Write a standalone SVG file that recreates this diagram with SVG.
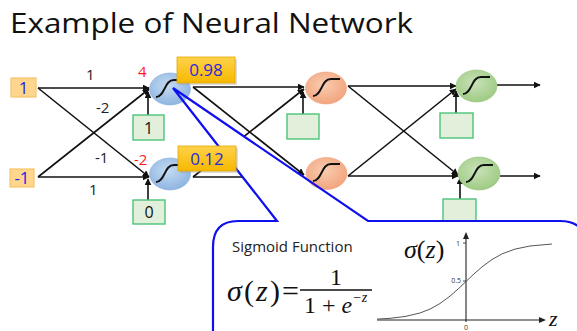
<svg xmlns="http://www.w3.org/2000/svg" width="577" height="331" viewBox="0 0 577 331">
  <style>
    .sans { font-family: "Open Sans", "Liberation Sans", sans-serif; }
    .serif { font-family: "Liberation Serif", "Times New Roman", serif; }
    .wire { stroke: #111; stroke-width: 1.6; fill: none; marker-end: url(#arrow); }
    .wt { font-size: 15px; fill: #222; }
    .net { font-size: 15px; fill: #ff1a1a; }
    .inbox { fill: #ffd68c; stroke: #f7c46a; stroke-width: 1.2; }
    .intext { font-size: 17px; fill: #1e1ee6; }
    .bias { fill: #e2efda; stroke: #4cc47a; stroke-width: 1.4; }
    .btext { font-size: 16px; fill: #111; }
    .sig { fill: none; stroke: #111; stroke-width: 2; }
    .outbox { fill: url(#gold); stroke: #e0a800; stroke-width: 0.8; }
    .outtext { font-size: 17px; fill: #2a2ad6; }
    .call { stroke: #1010ee; stroke-width: 2.2; fill: none; stroke-linejoin: miter; }
  </style>
  <defs>
    <marker id="arrow" viewBox="0 0 10 10" refX="9" refY="5" markerWidth="7" markerHeight="7" markerUnits="userSpaceOnUse" orient="auto">
      <path d="M0,0 L10,5 L0,10 z" fill="#111"/>
    </marker>
    <radialGradient id="blue" cx="45%" cy="40%" r="60%">
      <stop offset="0" stop-color="#c4dbf1"/>
      <stop offset="1" stop-color="#8fb5e2"/>
    </radialGradient>
    <radialGradient id="orange" cx="45%" cy="40%" r="60%">
      <stop offset="0" stop-color="#f9ccb0"/>
      <stop offset="1" stop-color="#f2a57f"/>
    </radialGradient>
    <radialGradient id="green" cx="45%" cy="40%" r="60%">
      <stop offset="0" stop-color="#c9e2b8"/>
      <stop offset="1" stop-color="#9fcb84"/>
    </radialGradient>
    <linearGradient id="gold" x1="0" y1="0" x2="0" y2="1">
      <stop offset="0" stop-color="#ffd24a"/>
      <stop offset="1" stop-color="#f6b800"/>
    </linearGradient>
    <path id="s" d="M-14,8 C-5,8 -6,-9 4,-9 L13,-9"/>
  </defs>

  <!-- title -->
  <text class="sans" x="10" y="33" font-size="28" fill="#111" textLength="403" lengthAdjust="spacingAndGlyphs">Example of Neural Network</text>

  <!-- connectors -->
  <g id="connectors">
    <line class="wire" x1="38" y1="88" x2="149" y2="88"/>
    <line class="wire" x1="38" y1="88" x2="149" y2="177"/>
    <line class="wire" x1="38" y1="177" x2="149" y2="177"/>
    <line class="wire" x1="38" y1="177" x2="149" y2="89"/>
    <line class="wire" x1="148" y1="115" x2="148" y2="92"/>
    <line class="wire" x1="148" y1="200" x2="148" y2="179"/>

    <line class="wire" x1="193" y1="87" x2="304" y2="87"/>
    <line class="wire" x1="193" y1="87" x2="304" y2="175"/>
    <line class="wire" x1="193" y1="177" x2="304" y2="177"/>
    <line class="wire" x1="193" y1="177" x2="304" y2="89"/>
    <line class="wire" x1="303" y1="114" x2="303" y2="92"/>

    <line class="wire" x1="348" y1="86" x2="456" y2="86"/>
    <line class="wire" x1="348" y1="86" x2="458" y2="175"/>
    <line class="wire" x1="348" y1="176" x2="458" y2="176"/>
    <line class="wire" x1="348" y1="176" x2="456" y2="89"/>
    <line class="wire" x1="456" y1="113" x2="456" y2="91"/>
    <line class="wire" x1="460" y1="199" x2="460" y2="178"/>

    <line class="wire" x1="497" y1="85" x2="540" y2="85"/>
    <line class="wire" x1="500" y1="176" x2="540" y2="176"/>
  </g>

  <!-- weights -->
  <text class="sans wt" x="86" y="80">1</text>
  <text class="sans wt" x="96" y="113">-2</text>
  <text class="sans wt" x="95" y="163">-1</text>
  <text class="sans wt" x="89" y="195">1</text>
  <text class="sans net" x="138" y="77">4</text>
  <text class="sans net" x="134" y="165">-2</text>

  <!-- inputs -->
  <g id="in1"><rect class="inbox" x="11" y="78" width="25" height="19"/><text class="sans intext" x="23.5" y="94" text-anchor="middle">1</text></g>
  <g id="in2"><rect class="inbox" x="10" y="169" width="24" height="18"/><text class="sans intext" x="22" y="184" text-anchor="middle">-1</text></g>

  <!-- bias boxes -->
  <g id="b1"><rect class="bias" x="133" y="115" width="31" height="25"/><text class="sans btext" x="148.5" y="133.5" text-anchor="middle">1</text></g>
  <g id="b2"><rect class="bias" x="133" y="200" width="32" height="24"/><text class="sans btext" x="149" y="218" text-anchor="middle">0</text></g>
  <g id="b3"><rect class="bias" x="287" y="114" width="32" height="25"/></g>
  <g id="b5"><rect class="bias" x="440" y="113" width="33" height="25"/></g>
  <g id="b6"><rect class="bias" x="443" y="199" width="33" height="30"/></g>

  <!-- callout background -->
  <path d="M238,221 L277,221 L173,88 L368,221 L560,221 Q586,221 586,247 L586,360 L213,360 L213,247 Q213,221 238,221 Z" fill="#fff"/>

  <!-- neurons -->
  <g id="n1"><ellipse cx="170" cy="89" rx="20.5" ry="16" fill="url(#blue)" stroke="#8aaedb" stroke-width="0.6"/><use href="#s" class="sig" x="170" y="89"/></g>
  <g id="n2"><ellipse cx="170" cy="174" rx="20.5" ry="16" fill="url(#blue)" stroke="#8aaedb" stroke-width="0.6"/><use href="#s" class="sig" x="170" y="174"/></g>
  <g id="n3"><ellipse cx="326" cy="88" rx="20.5" ry="16" fill="url(#orange)" stroke="#eea07a" stroke-width="0.6"/><use href="#s" class="sig" x="327" y="88"/></g>
  <g id="n4"><ellipse cx="326.5" cy="173.5" rx="20.5" ry="16" fill="url(#orange)" stroke="#eea07a" stroke-width="0.6"/><use href="#s" class="sig" x="327" y="173"/></g>
  <g id="n5"><ellipse cx="476.5" cy="86" rx="20.5" ry="16" fill="url(#green)" stroke="#97c47b" stroke-width="0.6"/><use href="#s" class="sig" x="477" y="86"/></g>
  <g id="n6"><ellipse cx="479" cy="173.5" rx="21" ry="16.5" fill="url(#green)" stroke="#97c47b" stroke-width="0.6"/><use href="#s" class="sig" x="480" y="174"/></g>

  <!-- callout outline -->
  <path class="call" d="M238,221 L277,221 L173,88 L368,221 L560,221 Q586,221 586,247 L586,360 M213,360 L213,247 Q213,221 238,221"/>

  <!-- outputs -->
  <g id="o1"><rect x="179" y="59" width="58" height="26" fill="#9a9a9a" opacity="0.35"/><rect class="outbox" x="177" y="57" width="58" height="26"/><text class="sans outtext" x="206" y="76" text-anchor="middle">0.98</text></g>
  <g id="o2"><rect x="180" y="148" width="58" height="25" fill="#9a9a9a" opacity="0.35"/><rect class="outbox" x="178" y="146" width="58" height="25"/><text class="sans outtext" x="207" y="165" text-anchor="middle">0.12</text></g>

  <!-- sigmoid panel -->
  <g id="sigmoid">
    <text class="sans" x="232" y="252" font-size="15" fill="#222">Sigmoid Function</text>
    <text class="serif" x="227" y="301" font-size="30" fill="#111" textLength="72" lengthAdjust="spacing"><tspan font-style="italic">σ</tspan>(<tspan font-style="italic">z</tspan>)=</text>
    <text class="serif" x="336" y="285" font-size="24" fill="#111" text-anchor="middle">1</text>
    <line x1="300" y1="290" x2="372" y2="290" stroke="#111" stroke-width="1.4"/>
    <text class="serif" x="304" y="313" font-size="24" fill="#111">1 + <tspan font-style="italic">e</tspan><tspan font-size="14" dy="-11" font-style="italic">−z</tspan></text>

    <text class="serif" x="404" y="258" font-size="26" fill="#111"><tspan font-style="italic">σ</tspan>(<tspan font-style="italic">z</tspan>)</text>
    <line x1="466" y1="322" x2="466" y2="238" stroke="#222" stroke-width="1.1"/>
    <path d="M466,232 L463,239 L469,239 Z" fill="#222"/>
    <line x1="377" y1="320" x2="540" y2="320" stroke="#222" stroke-width="1.1"/>
    <path d="M546,320 L539,317 L539,323 Z" fill="#222"/>
    <line x1="463" y1="243" x2="466" y2="243" stroke="#222" stroke-width="0.8"/>
    <line x1="463" y1="281" x2="466" y2="281" stroke="#222" stroke-width="0.8"/>
    <text class="sans" x="460" y="246" font-size="7" fill="#333" text-anchor="end">1</text>
    <text class="sans" x="461" y="283" font-size="7" fill="#333" text-anchor="end">0.5</text>
    <text class="sans" x="466" y="330" font-size="7" fill="#333" text-anchor="middle">0</text>
    <text class="serif" x="549" y="326" font-size="22" font-style="italic" fill="#111">z</text>
    <path d="M377,319.1 L390,318.3 L405,316.5 L420,313 L430,309.1 L440,303.5 L450,296.1 L458,289.1 L466,281.5 L474,273.9 L482,266.9 L492,259.5 L502,253.9 L515,249.1 L530,246 L552,244" fill="none" stroke="#555" stroke-width="1" stroke-linejoin="round"/>
  </g>
</svg>
